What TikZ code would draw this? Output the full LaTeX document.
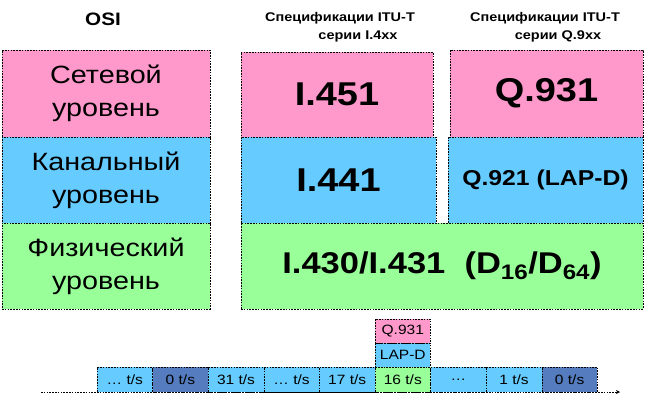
\documentclass[tikz,border=0pt]{standalone}
\usepackage{fontspec}
\setmainfont[FakeStretch=1.15]{Liberation Sans}
\usetikzlibrary{arrows.meta}
\definecolor{pinkc}{RGB}{255,153,204}
\definecolor{bluec}{RGB}{102,204,255}
\definecolor{greenc}{RGB}{153,255,153}
\definecolor{darkc}{RGB}{84,124,190}
\tikzset{
  box/.style={draw=black, line width=0.6pt, dash pattern=on 1.6pt off 1.2pt, inner sep=0pt, outer sep=0pt, align=center},
  ositext/.style={font=\fontsize{25}{33}\selectfont},
  bigtext/.style={font=\bfseries\fontsize{33}{36}\selectfont},
  slot/.style={box, minimum width=55.6pt, minimum height=25pt, font=\fontsize{13.5}{15}\selectfont},
  hdr/.style={font=\bfseries\fontsize{12.6}{14}\selectfont, inner sep=0pt}
}
\begin{document}
\begin{tikzpicture}[x=1pt,y=-1pt]
\useasboundingbox (0,0) rectangle (646,402);
% headers
\node[font=\bfseries\fontsize{18}{20}\selectfont, inner sep=0pt] (osi) at (103,19) {OSI};
\node[hdr] (h1a) at (340,18) {Спецификации ITU-T};
\node[hdr] (h1b) at (358,36) {серии I.4xx};
\node[hdr] (h2a) at (545,18) {Спецификации ITU-T};
\node[hdr] (h2b) at (558,36) {серии Q.9xx};
% OSI column
\node[box, fill=pinkc, minimum width=208pt, minimum height=87pt, ositext] (net) at (106,93.5) {Сетевой\\уровень};
\node[box, fill=bluec, minimum width=208pt, minimum height=86pt, ositext] (link) at (106,180) {Канальный\\уровень};
\node[box, fill=greenc, minimum width=208pt, minimum height=86pt, ositext] (phys) at (106,266) {Физический\\уровень};
% I.4xx column
\node[box, fill=pinkc, minimum width=192pt, minimum height=85pt, bigtext] (i451) at (337,94.5) {I.451};
\node[box, fill=bluec, minimum width=195pt, minimum height=86pt, bigtext] (i441) at (338.5,180) {I.441};
% Q.9xx column
\node[box, fill=pinkc, minimum width=193pt, minimum height=87pt, bigtext] (q931) at (546.5,93.5) {Q.931};
\node[box, fill=bluec, minimum width=195pt, minimum height=86pt, font=\bfseries\fontsize{21.5}{24}\selectfont] (q921) at (545.5,180) {Q.921 (LAP-D)};
% physical
\node[box, fill=greenc, minimum width=402pt, minimum height=86pt, font=\bfseries\fontsize{30}{34}\selectfont] (i430) at (442,266) {I.430/I.431\ \ (D\textsubscript{16}/D\textsubscript{64})};
% time axis
\coordinate (ax0) at (41,392);
\coordinate (ax1) at (620,392);
\draw[line width=0.6pt, dash pattern=on 1.6pt off 1.2pt, -{Stealth[length=4pt,width=4pt]}] (ax0) -- (ax1);
% slots
\node[slot, fill=bluec]  (s1) at (124.8,379.5) {… t/s};
\node[slot, fill=darkc]  (s2) at (180.4,379.5) {0 t/s};
\node[slot, fill=bluec]  (s3) at (236.0,379.5) {31 t/s};
\node[slot, fill=bluec]  (s4) at (291.6,379.5) {… t/s};
\node[slot, fill=bluec]  (s5) at (347.2,379.5) {17 t/s};
\node[slot, fill=greenc] (s6) at (402.8,379.5) {16 t/s};
\node[slot, fill=bluec]  (s7) at (458.4,379.5) {…};
\node[slot, fill=bluec]  (s8) at (514.0,379.5) {1 t/s};
\node[slot, fill=darkc]  (s9) at (569.6,379.5) {0 t/s};
% stacked above 16 t/s
\node[slot, fill=bluec, minimum width=55pt, minimum height=24pt, anchor=south] (lapd) at (s6.north) {LAP-D};
\node[slot, fill=pinkc, minimum width=55pt, minimum height=24pt, anchor=south] (q931s) at (lapd.north) {Q.931};
\end{tikzpicture}
\end{document}
